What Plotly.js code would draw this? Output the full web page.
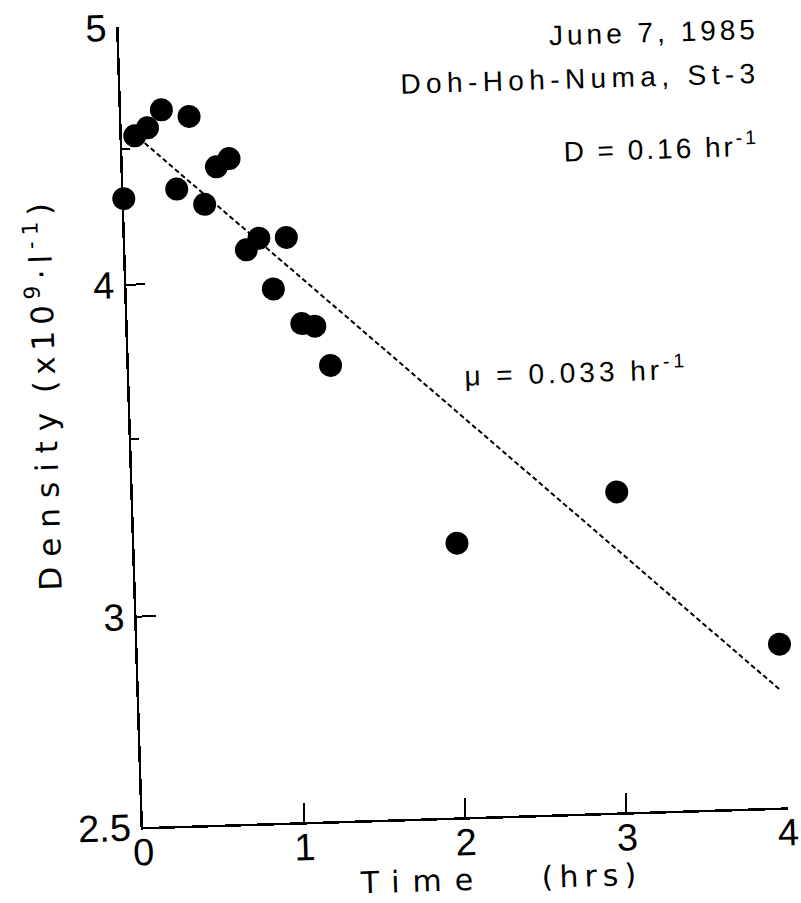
<!DOCTYPE html>
<html>
<head>
<meta charset="utf-8">
<script src="https://cdn.plot.ly/plotly-3.0.1.min.js"></script>
<style>
  html, body { margin: 0; padding: 0; background: #ffffff; }
  #chart {
    width: 801px; height: 903px;
    /* the printed figure sits slightly tilted on the page */
    transform: rotate(-1.75deg);
    transform-origin: 143px 827px;
  }
</style>
</head>
<body>
<div id="chart"></div>
<script>
// Sampling times (hours) and cell density (x10^9 per litre), log scale
const timeHrs = [0, 0.08, 0.16, 0.25, 0.33, 0.42, 0.50, 0.58, 0.66, 0.75,
                 0.83, 0.91, 1.00, 1.08, 1.16, 1.25, 2, 3, 3.98];
const density = [4.31, 4.55, 4.58, 4.65, 4.34, 4.62, 4.28, 4.42, 4.45, 4.11,
                 4.15, 3.97, 4.15, 3.85, 3.84, 3.71, 3.17, 3.30, 2.88];

// Washout line fitted to the decline
const fitTime = [0.14, 3.97];
const fitDensity = [4.52, 2.77];

// Axis ticks
const xTicks = [0, 1, 2, 3, 4];
const yTicks = [2.5, 3, 4, 5];
const yTickText = ['2.5', '3', '4', '5'];
const yMinorTicks = [3.5, 4.5];

const FONT = '"Liberation Sans", Arial, sans-serif';
const NARROW = '"Liberation Sans Narrow", "Liberation Sans", Arial, sans-serif';
const WIDE = '"DejaVu Sans", sans-serif';

const traces = [
  {
    x: fitTime, y: fitDensity, mode: 'lines', type: 'scatter',
    line: { color: '#000', width: 2, dash: '5px,3px' },
    hoverinfo: 'skip'
  },
  {
    x: timeHrs, y: density, mode: 'markers', type: 'scatter',
    marker: { color: '#000', size: 23, line: { width: 0 } },
    cliponaxis: false
  }
];

const sp = (s, txt) => '<span style="letter-spacing:' + s + 'px">' + txt + '</span>';

const layout = {
  width: 801, height: 903,
  margin: { l: 143, r: 13, t: 27, b: 76 },
  paper_bgcolor: '#fff', plot_bgcolor: '#fff',
  showlegend: false,
  font: { family: FONT, color: '#000', size: 24 },
  xaxis: {
    range: [0, 4], showgrid: false, zeroline: false,
    showline: true, linecolor: '#000', linewidth: 2.5,
    ticks: 'inside', ticklen: 19, tickwidth: 2, tickcolor: '#000',
    tickmode: 'array', tickvals: xTicks,
    tickfont: { family: NARROW, size: 38 }, ticklabelstandoff: -10
  },
  yaxis: {
    type: 'log', range: [Math.log10(2.5), Math.log10(5)],
    showgrid: false, zeroline: false,
    showline: true, linecolor: '#000', linewidth: 2.5,
    ticks: 'inside', ticklen: 19, tickwidth: 2, tickcolor: '#000',
    tickmode: 'array', tickvals: yTicks, ticktext: yTickText,
    tickfont: { family: NARROW, size: 38 }, ticklabelstandoff: 2,
    minor: { tickmode: 'array', tickvals: yMinorTicks, ticks: 'inside',
             ticklen: 8, tickwidth: 2, tickcolor: '#000', showgrid: false }
  },
  annotations: [
    { text: sp(4, 'June 7, 1985'), xref: 'paper', yref: 'paper',
      x: 0.995, y: 0.9725, xanchor: 'right', yanchor: 'middle', showarrow: false,
      font: { family: FONT, size: 28 } },
    { text: sp(5.4, 'Doh-Hoh-Numa, St-3'), xref: 'paper', yref: 'paper',
      x: 0.995, y: 0.918, xanchor: 'right', yanchor: 'middle', showarrow: false,
      font: { family: FONT, size: 28 } },
    { text: sp(3, 'D = 0.16 hr<sup>-1</sup>'), xref: 'paper', yref: 'paper',
      x: 0.99, y: 0.83, xanchor: 'right', yanchor: 'middle', showarrow: false,
      font: { family: FONT, size: 28 } },
    { text: sp(4, 'μ = 0.033 hr<sup>-1</sup>'), xref: 'paper', yref: 'paper',
      x: 0.517, y: 0.554, xanchor: 'left', yanchor: 'middle', showarrow: false,
      font: { family: FONT, size: 28 } },
    { text: sp(13, 'Time') + sp(9, '&nbsp;&nbsp;&nbsp;') + sp(6, '(hrs)'),
      xref: 'paper', yref: 'paper',
      x: 0.552, y: -0.078, xanchor: 'center', yanchor: 'middle', showarrow: false,
      font: { family: WIDE, size: 30 } },
    { text: sp(10, 'Density') + ' ' + sp(6, '(x10<sup>9</sup>·l<sup>-1</sup>)'),
      xref: 'paper', yref: 'paper', textangle: -90,
      x: -0.135, y: 0.545, xanchor: 'center', yanchor: 'middle', showarrow: false,
      font: { family: WIDE, size: 31 } }
  ]
};

Plotly.newPlot('chart', traces, layout, { displayModeBar: false, staticPlot: true });
</script>
</body>
</html>
